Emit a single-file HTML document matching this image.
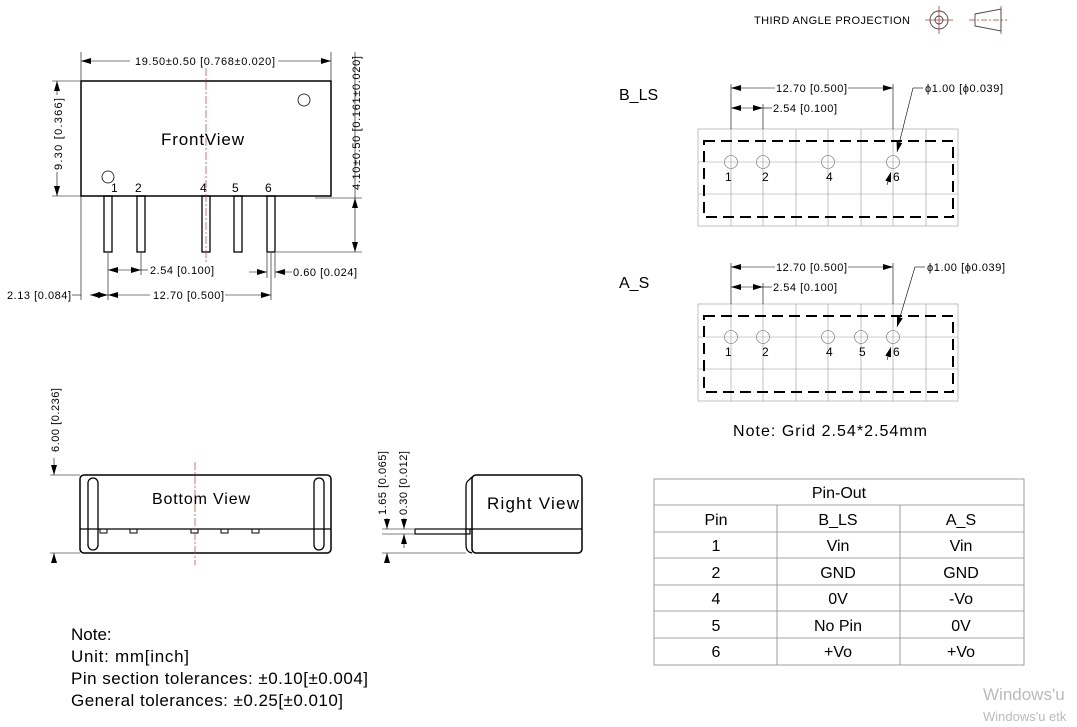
<!DOCTYPE html>
<html><head><meta charset="utf-8"><style>
html,body{margin:0;padding:0;background:#fff;}
svg{display:block;font-family:"Liberation Sans",sans-serif;}
</style></head><body>
<svg width="1077" height="727" viewBox="0 0 1077 727" xmlns="http://www.w3.org/2000/svg">
<defs>
<marker id="a" viewBox="0 0 10 6" refX="10" refY="3" markerWidth="10" markerHeight="6" orient="auto-start-reverse" markerUnits="userSpaceOnUse"><path d="M0,0L10,3L0,6z" fill="#000"/></marker>
</defs>
<!-- third angle -->
<text x="754" y="24" font-size="11" textLength="156">THIRD ANGLE PROJECTION</text>
<g stroke="#c33" stroke-width="0.8" fill="none">
<line x1="925" y1="20" x2="953" y2="20"/><line x1="939" y1="6" x2="939" y2="34"/>
<line x1="969" y1="20" x2="1007" y2="20" stroke-dasharray="6,2,2,2"/><line x1="1001" y1="6" x2="1001" y2="34"/>
</g>
<g stroke="#444" stroke-width="0.9" fill="none">
<circle cx="939" cy="20" r="9"/><circle cx="939" cy="20" r="4"/>
<path d="M975,14 L1001,9 L1001,31 L975,26 Z"/>
</g>

<!-- FRONT VIEW -->
<g stroke="#000" fill="none">
<rect x="81" y="81" width="250" height="115" stroke-width="1.5"/>
<circle cx="304" cy="100" r="6" stroke-width="0.8"/>
<circle cx="108" cy="177" r="6" stroke-width="0.8"/>
<g stroke-width="1.3">
<rect x="104" y="196" width="8" height="56"/>
<rect x="137" y="196" width="8" height="56"/>
<rect x="202" y="196" width="8" height="56"/>
<rect x="234" y="196" width="8" height="56"/>
<rect x="267" y="196" width="8" height="56"/>
</g>
<g stroke-width="0.6">
<line x1="81" y1="52" x2="81" y2="300"/><line x1="331" y1="52" x2="331" y2="80"/>
<line x1="81" y1="61" x2="130" y2="61" marker-start="url(#a)"/><line x1="278" y1="61" x2="331" y2="61" marker-end="url(#a)"/>
<line x1="52" y1="81" x2="80" y2="81"/><line x1="52" y1="196" x2="100" y2="196"/>
<line x1="57" y1="81" x2="57" y2="95" marker-start="url(#a)"/><line x1="57" y1="172" x2="57" y2="196" marker-end="url(#a)"/>
<line x1="315" y1="198" x2="362" y2="198"/><line x1="276" y1="252" x2="362" y2="252"/>
<line x1="355" y1="198" x2="355" y2="252" marker-start="url(#a)" marker-end="url(#a)"/>
<line x1="355" y1="52" x2="355" y2="198"/>
<line x1="108" y1="253" x2="108" y2="300"/><line x1="141" y1="253" x2="141" y2="275"/>
<line x1="108" y1="270" x2="141" y2="270" marker-start="url(#a)" marker-end="url(#a)"/>
<line x1="141" y1="270" x2="148" y2="270"/>
<line x1="267" y1="253" x2="267" y2="278"/><line x1="275" y1="253" x2="275" y2="278"/>
<line x1="249" y1="272" x2="267" y2="272" marker-end="url(#a)"/><line x1="292" y1="272" x2="275" y2="272" marker-end="url(#a)"/>
<line x1="271" y1="253" x2="271" y2="300"/>
<line x1="72" y1="295" x2="81" y2="295"/>
<line x1="90" y1="295" x2="108" y2="295" marker-start="url(#a)" marker-end="url(#a)"/>
<line x1="108" y1="295" x2="150" y2="295" marker-start="url(#a)"/><line x1="225" y1="295" x2="271" y2="295" marker-end="url(#a)"/>
</g>
</g>
<line x1="206" y1="68" x2="206" y2="262" stroke="#c33" stroke-width="0.7" stroke-dasharray="8,2,2,2"/>
<g font-size="11" fill="#000">
<text x="135" y="65" textLength="140">19.50±0.50 [0.768±0.020]</text>
<text transform="translate(62,170) rotate(-90)" textLength="72">9.30 [0.366]</text>
<text transform="translate(360,190) rotate(-90)" textLength="134">4.10±0.50 [0.161±0.020]</text>
<text x="150" y="274" textLength="64">2.54 [0.100]</text>
<text x="293" y="276" textLength="64">0.60 [0.024]</text>
<text x="7" y="299" textLength="64">2.13 [0.084]</text>
<text x="153" y="299" textLength="71">12.70 [0.500]</text>
</g>
<text x="161" y="145" font-size="17" textLength="83">FrontView</text>
<g font-size="12"><text x="111" y="192">1</text><text x="135" y="192">2</text><text x="200" y="192">4</text><text x="232" y="192">5</text><text x="265" y="192">6</text></g>

<!-- B_LS -->
<text x="619" y="100" font-size="16">B_LS</text>
<g stroke="#999" stroke-width="0.6" fill="none">
<rect x="698" y="129" width="260" height="97"/>
<path d="M731,129V226M763,129V226M796,129V226M828,129V226M861,129V226M893,129V226M926,129V226M698,162H958M698,194H958"/>
<circle cx="731" cy="162" r="6.5" stroke="#666"/><circle cx="763" cy="162" r="6.5" stroke="#666"/><circle cx="828" cy="162" r="6.5" stroke="#666"/><circle cx="893" cy="162" r="6.5" stroke="#666"/>
</g>
<rect x="704" y="141" width="249" height="76" fill="none" stroke="#000" stroke-width="2" stroke-dasharray="11,6"/>
<g stroke="#000" stroke-width="0.6" fill="none">
<line x1="731" y1="84" x2="731" y2="129"/><line x1="763" y1="104" x2="763" y2="129"/><line x1="893" y1="84" x2="893" y2="129"/>
<line x1="731" y1="88" x2="775" y2="88" marker-start="url(#a)"/><line x1="848" y1="88" x2="893" y2="88" marker-end="url(#a)"/>
<line x1="731" y1="108" x2="763" y2="108" marker-start="url(#a)" marker-end="url(#a)"/><line x1="763" y1="108" x2="772" y2="108"/>
<line x1="923" y1="88" x2="913" y2="88"/><line x1="913" y1="88" x2="897" y2="152" marker-end="url(#a)"/>
<line x1="887" y1="185" x2="891" y2="172" marker-end="url(#a)"/>
</g>
<g font-size="11"><text x="776" y="92" textLength="71">12.70 [0.500]</text><text x="773" y="112" textLength="64">2.54 [0.100]</text><text x="925" y="92" textLength="78">ϕ1.00 [ϕ0.039]</text></g>
<g font-size="12"><text x="725" y="181">1</text><text x="762" y="181">2</text><text x="826" y="181">4</text><text x="893" y="181">6</text></g>

<!-- A_S -->
<text x="619" y="288" font-size="16">A_S</text>
<g stroke="#999" stroke-width="0.6" fill="none">
<rect x="698" y="304" width="260" height="97"/>
<path d="M731,304V401M763,304V401M796,304V401M828,304V401M861,304V401M893,304V401M926,304V401M698,337H958M698,369H958"/>
<circle cx="731" cy="337" r="6.5" stroke="#666"/><circle cx="763" cy="337" r="6.5" stroke="#666"/><circle cx="828" cy="337" r="6.5" stroke="#666"/><circle cx="861" cy="337" r="6.5" stroke="#666"/><circle cx="893" cy="337" r="6.5" stroke="#666"/>
</g>
<rect x="704" y="316" width="249" height="76" fill="none" stroke="#000" stroke-width="2" stroke-dasharray="11,6"/>
<g stroke="#000" stroke-width="0.6" fill="none">
<line x1="731" y1="263" x2="731" y2="304"/><line x1="763" y1="283" x2="763" y2="304"/><line x1="893" y1="263" x2="893" y2="304"/>
<line x1="731" y1="267" x2="775" y2="267" marker-start="url(#a)"/><line x1="848" y1="267" x2="893" y2="267" marker-end="url(#a)"/>
<line x1="731" y1="287" x2="763" y2="287" marker-start="url(#a)" marker-end="url(#a)"/><line x1="763" y1="287" x2="772" y2="287"/>
<line x1="925" y1="267" x2="915" y2="267"/><line x1="915" y1="267" x2="897" y2="327" marker-end="url(#a)"/>
<line x1="887" y1="360" x2="891" y2="347" marker-end="url(#a)"/>
</g>
<g font-size="11"><text x="776" y="271" textLength="71">12.70 [0.500]</text><text x="773" y="291" textLength="64">2.54 [0.100]</text><text x="927" y="271" textLength="78">ϕ1.00 [ϕ0.039]</text></g>
<g font-size="12"><text x="725" y="356">1</text><text x="762" y="356">2</text><text x="826" y="356">4</text><text x="859" y="356">5</text><text x="893" y="356">6</text></g>

<text x="733" y="436" font-size="16" textLength="194">Note: Grid 2.54*2.54mm</text>

<!-- BOTTOM VIEW -->
<g stroke="#000" fill="none">
<rect x="80" y="475" width="251" height="78" rx="4" stroke-width="1.5"/>
<line x1="80" y1="529" x2="331" y2="529" stroke-width="1.2"/>
<rect x="88" y="478" width="10" height="72" rx="5" stroke-width="1.3"/>
<rect x="314" y="478" width="10" height="72" rx="5" stroke-width="1.3"/>
<g stroke-width="1"><rect x="100" y="529" width="7" height="4"/><rect x="130" y="529" width="7" height="4"/><rect x="191" y="529" width="7" height="4"/><rect x="221" y="529" width="7" height="4"/><rect x="252" y="529" width="7" height="4"/></g>
<g stroke-width="0.6">
<line x1="50" y1="475" x2="80" y2="475"/><line x1="50" y1="553" x2="80" y2="553"/>
<line x1="54" y1="458" x2="54" y2="475" marker-end="url(#a)"/><line x1="54" y1="560" x2="54" y2="553" marker-end="url(#a)"/>
</g>
</g>
<line x1="195" y1="462" x2="195" y2="565" stroke="#c33" stroke-width="0.7" stroke-dasharray="8,2,2,2"/>
<text x="152" y="504" font-size="16" textLength="98">Bottom View</text>
<text transform="translate(59,452) rotate(-90)" font-size="11" textLength="64">6.00 [0.236]</text>

<!-- RIGHT VIEW -->
<g stroke="#000" fill="none">
<path d="M472,477 L469,480 Q466,482 466,486 L466,545 Q466,550 469,552 L472,553" stroke-width="1.3"/>
<rect x="472" y="475" width="110" height="78" rx="4" stroke-width="1.5"/>
<line x1="466" y1="529" x2="582" y2="529" stroke-width="1.2"/>
<rect x="415" y="529" width="55" height="5" stroke-width="1.2"/>
<g stroke-width="0.6">
<line x1="382" y1="529" x2="414" y2="529"/><line x1="382" y1="534" x2="414" y2="534"/><line x1="382" y1="553" x2="466" y2="553"/>
<line x1="387" y1="518" x2="387" y2="529" marker-end="url(#a)"/><line x1="387" y1="560" x2="387" y2="553" marker-end="url(#a)"/>
<line x1="404" y1="518" x2="404" y2="529" marker-end="url(#a)"/><line x1="404" y1="548" x2="404" y2="534" marker-end="url(#a)"/>
</g>
</g>
<text transform="translate(386,515) rotate(-90)" font-size="11" textLength="64">1.65 [0.065]</text>
<text transform="translate(407,515) rotate(-90)" font-size="11" textLength="64">0.30 [0.012]</text>
<text x="487" y="509" font-size="17" textLength="92">Right  View</text>

<!-- TABLE -->
<g stroke="#888" stroke-width="0.8" fill="none">
<rect x="654" y="479" width="370" height="186"/>
<path d="M654,505H1024M654,532H1024M654,558H1024M654,585H1024M654,611H1024M654,638H1024M777,505V665M900,505V665"/>
</g>
<g font-size="16" text-anchor="middle">
<text x="839" y="498">Pin-Out</text>
<text x="716" y="525">Pin</text><text x="838" y="525">B_LS</text><text x="961" y="525">A_S</text>
<text x="716" y="551">1</text><text x="838" y="551">Vin</text><text x="961" y="551">Vin</text>
<text x="716" y="578">2</text><text x="838" y="578">GND</text><text x="961" y="578">GND</text>
<text x="716" y="604">4</text><text x="838" y="604">0V</text><text x="961" y="604">-Vo</text>
<text x="716" y="631">5</text><text x="838" y="631">No Pin</text><text x="961" y="631">0V</text>
<text x="716" y="657">6</text><text x="838" y="657">+Vo</text><text x="961" y="657">+Vo</text>
</g>

<!-- NOTES -->
<g font-size="17">
<text x="71" y="640">Note:</text>
<text x="71" y="662" textLength="118">Unit: mm[inch]</text>
<text x="71" y="684" textLength="297">Pin section tolerances: ±0.10[±0.004]</text>
<text x="71" y="706" textLength="272">General tolerances: ±0.25[±0.010]</text>
</g>
<text x="983" y="700" font-size="17" fill="#bbb">Windows'u</text>
<text x="983" y="721" font-size="13" fill="#bbb">Windows'u etk</text>
</svg>
</body></html>
